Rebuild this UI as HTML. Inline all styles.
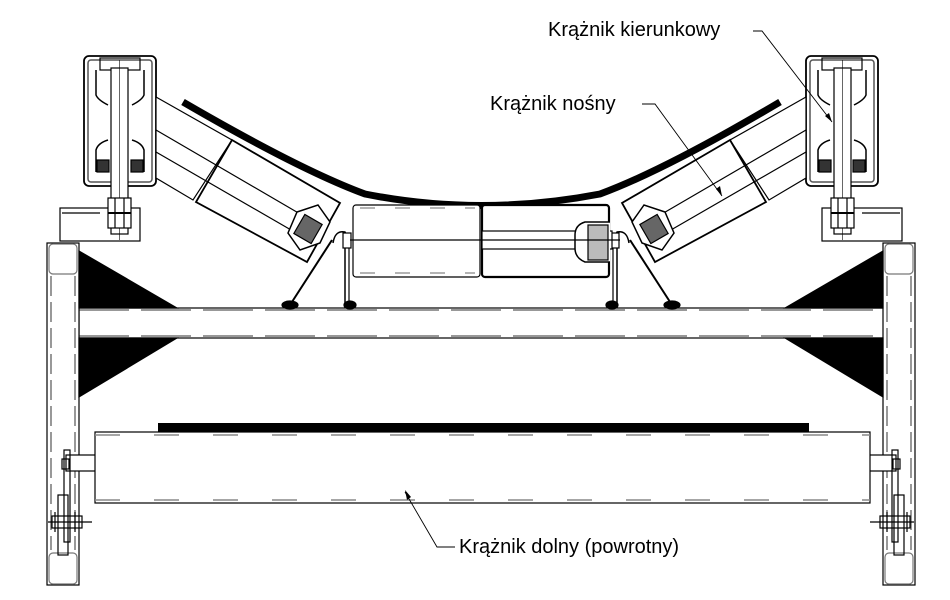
<!DOCTYPE html>
<html><head><meta charset="utf-8"><style>
html,body{margin:0;padding:0;background:#fff;width:950px;height:600px;overflow:hidden}
svg{display:block}
text{font-family:"Liberation Sans",Arial,sans-serif;font-size:20px;fill:#000}
</style></head><body>
<svg width="950" height="600" viewBox="0 0 950 600" xmlns="http://www.w3.org/2000/svg">
<defs>
<g id="half" fill="none" stroke="#000" stroke-width="1.2">
  <!-- post -->
  <rect x="47" y="243" width="32" height="342" fill="#fff"/>
  <rect x="49" y="244" width="28" height="30" rx="4" stroke="#777"/>
  <rect x="49" y="553" width="28" height="31" rx="4" stroke="#777"/>
  <line x1="51" y1="276" x2="51" y2="550" stroke-dasharray="20,6" stroke="#555"/>
  <line x1="75" y1="276" x2="75" y2="550" stroke-dasharray="20,6" stroke="#555"/>
  <!-- triangles -->
  <polygon points="79,251 79,308 177,308" fill="#000"/>
  <polygon points="79,338 177,338 79,397" fill="#000"/>
  <!-- bracket plate -->
  <rect x="60" y="208" width="80" height="33" fill="#fff"/>
  <line x1="62" y1="213" x2="100" y2="213"/>
  <!-- guide roller -->
  <rect x="84" y="56" width="72" height="130" rx="5" stroke-width="1.8"/>
  <rect x="88" y="60" width="64" height="122" rx="3" stroke="#555" stroke-width="1.5"/>
  <rect x="100" y="58" width="40" height="12"/>
  <path d="M96,70 L96,95 Q98,100 108,105 M144,70 L144,95 Q142,100 132,105" stroke-width="1.5"/>
  <path d="M96,172 L96,150 Q98,143 108,140 M144,172 L144,150 Q142,143 132,140" stroke-width="1.5"/>
  <rect x="97" y="160" width="12" height="12" fill="#333"/>
  <rect x="131" y="160" width="12" height="12" fill="#333"/>
  <rect x="111" y="68" width="17" height="166" fill="#fff"/>
  <line x1="119.5" y1="60" x2="119.5" y2="240" stroke-width="0.6"/>
  <rect x="108" y="198" width="23" height="30" fill="#fff"/>
  <line x1="108" y1="213" x2="131" y2="213" stroke-width="2"/>
  <line x1="115" y1="198" x2="115" y2="228"/><line x1="124" y1="198" x2="124" y2="228"/>
  <!-- inclined roller -->
  <polygon points="156,97 232,140 193,200 156,178" fill="#fff"/>
  <polygon points="232,140 340,203 307,262 196,202" fill="#fff" stroke-width="1.8"/>
  <line x1="156" y1="130" x2="307" y2="218"/>
  <line x1="156" y1="152" x2="298" y2="234"/>
  <path d="M297,212 L318,205 L330,222 L320,243 L300,250 L288,233 Z" fill="#fff" stroke-width="1.5"/>
  <rect x="298" y="218" width="20" height="22" fill="#666" transform="rotate(30 308 229)"/>
  <!-- supports -->
  <line x1="332" y1="240" x2="290" y2="305" stroke-width="2"/>
  <ellipse cx="290" cy="305" rx="8" ry="4" fill="#000"/>
  <line x1="345" y1="245" x2="345" y2="308" stroke-width="1.5"/>
  <line x1="349" y1="245" x2="349" y2="308"/>
  <ellipse cx="350" cy="305" rx="6" ry="4" fill="#000"/>
  <path d="M333,243 Q335,230 345,232 L348,238" stroke-width="1.5"/>
  <rect x="343" y="233" width="8" height="15" fill="#fff"/>
  <!-- return roller shaft / bracket -->
  <rect x="66" y="455" width="30" height="16" fill="#fff"/>
  <rect x="62" y="459" width="7" height="10"/>
  <rect x="64" y="450" width="6" height="92"/>
  <rect x="58" y="495" width="10" height="60"/>
  <rect x="52" y="516" width="30" height="12"/>
  <line x1="48" y1="522" x2="92" y2="522"/>
  <line x1="55" y1="512" x2="55" y2="532"/><line x1="75" y1="512" x2="75" y2="532"/>
</g>
</defs>
<!-- cross bar -->
<rect x="79" y="308" width="807" height="30" fill="#fff" stroke="#000" stroke-width="1.2"/>
<line x1="79" y1="310" x2="886" y2="310" stroke="#777" stroke-dasharray="50,12" stroke-width="1.5"/>
<line x1="79" y1="336" x2="886" y2="336" stroke="#777" stroke-dasharray="50,12" stroke-width="1.5"/>
<use href="#half"/>
<use href="#half" transform="translate(962,0) scale(-1,1)"/>
<!-- belt -->
<path d="M183,102 Q300,170 365,194 Q480,217 600,194 Q665,170 780,102" fill="none" stroke="#000" stroke-width="7"/>
<!-- center roller -->
<g fill="none" stroke="#000" stroke-width="1.2">
  <rect x="353" y="205" width="127" height="72" rx="3" fill="#fff"/>
  <rect x="482" y="205" width="127" height="72" rx="3" fill="#fff" stroke-width="2.2"/>
  <line x1="360" y1="208" x2="475" y2="208" stroke="#888" stroke-dasharray="15,20"/>
  <line x1="360" y1="273" x2="475" y2="273" stroke="#888" stroke-dasharray="15,20"/>
  <rect x="482" y="231" width="130" height="18" fill="#fff"/>
  <path d="M610,222 L585,222 Q575,225 575,235 L575,248 Q575,258 585,262 L610,262" fill="#fff" stroke-width="1.5"/>
  <rect x="588" y="225" width="20" height="35" fill="#bbb"/>
  <line x1="350" y1="240" x2="620" y2="240"/>
</g>
<!-- return roller -->
<rect x="158" y="423" width="651" height="9" fill="#000"/>
<rect x="95" y="432" width="775" height="71" fill="#fff" stroke="#000" stroke-width="1.2"/>
<line x1="95" y1="435" x2="870" y2="435" stroke="#888" stroke-width="1.5" stroke-dasharray="25,34"/>
<line x1="95" y1="500" x2="870" y2="500" stroke="#888" stroke-width="1.5" stroke-dasharray="25,34"/>
<!-- leaders -->
<g fill="none" stroke="#000" stroke-width="0.9">
  <polyline points="753,31 762,31 832,122"/>
  <polyline points="642,104 655,104 722,196"/>
  <polyline points="455,547 437,547 405,492"/>
</g>
<polygon points="832,122 825,116 829,113" fill="#000"/>
<polygon points="722,196 716,189 720,186" fill="#000"/>
<polygon points="405,490 407,500 411,497" fill="#000"/>
<text x="548" y="36">Krążnik kierunkowy</text>
<text x="490" y="110">Krążnik nośny</text>
<text x="459" y="553">Krążnik dolny (powrotny)</text>
</svg>
</body></html>
